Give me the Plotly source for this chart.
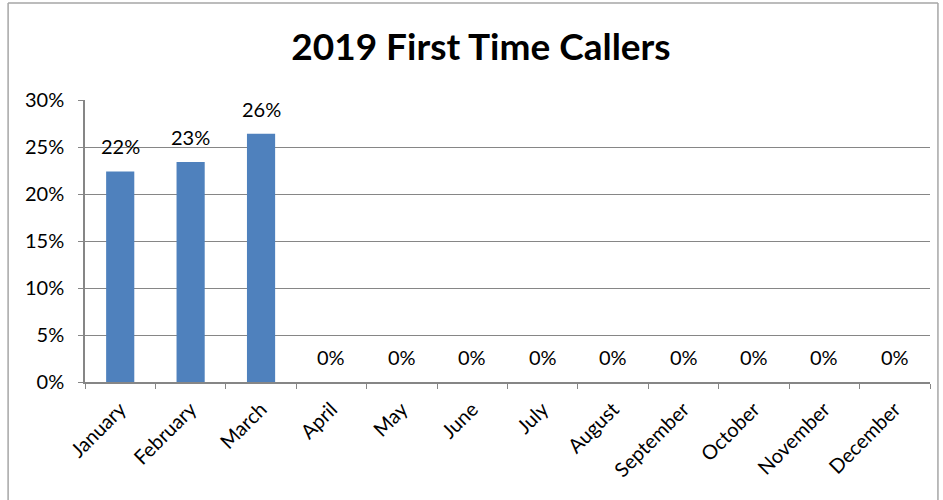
import plotly.graph_objects as go

months = ["January", "February", "March", "April", "May", "June", "July",
          "August", "September", "October", "November", "December"]
rates = [0.224, 0.234, 0.264, 0, 0, 0, 0, 0, 0, 0, 0, 0]
y_ticks = [0, 0.05, 0.10, 0.15, 0.20, 0.25, 0.30]
y_tick_labels = ["0%", "5%", "10%", "15%", "20%", "25%", "30%"]

FONT = "Lato, Calibri, 'Noto Sans', sans-serif"

fig = go.Figure(go.Bar(
    x=months, y=rates,
    marker=dict(color="#4F81BD", line=dict(color="#4F81BD", width=0)),
    hoverinfo="x+y",
))

for m, v in zip(months, rates):
    fig.add_annotation(x=m, y=v, text=f"{round(v * 100)}%", showarrow=False,
                       yanchor="bottom", yshift=11,
                       font=dict(family=FONT, size=20, color="#000000"))

fig.update_layout(
    width=943, height=500,
    margin=dict(l=85, r=13, t=100, b=118, autoexpand=False),
    paper_bgcolor="white", plot_bgcolor="white",
    bargap=0.6,
    showlegend=False,
    title=dict(text="<b>2019 First Time Callers</b>", x=0.51, xanchor="center",
               y=0.905, yanchor="middle",
               font=dict(family=FONT, size=37, color="#000000")),
    font=dict(family=FONT, size=20, color="#000000"),
    xaxis=dict(
        automargin=False,
        tickangle=-45, showgrid=False, showline=True, linecolor="#868686",
        linewidth=1.5, ticks="outside", tickson="boundaries", ticklen=5,
        ticklabelstandoff=6,
        tickcolor="#868686", tickfont=dict(family=FONT, size=20, color="#000000"),
    ),
    yaxis=dict(
        automargin=False,
        range=[0, 0.30], tickvals=y_ticks, ticktext=y_tick_labels,
        showgrid=True, gridcolor="#868686", gridwidth=1,
        showline=True, linecolor="#868686", linewidth=1.5,
        ticks="outside", ticklen=5, tickcolor="#868686",
        ticklabelstandoff=10,
        zeroline=False,
        tickfont=dict(family=FONT, size=20, color="#000000"),
    ),
    shapes=[
        dict(type="line", xref="paper", yref="paper", x0=-0.091, x1=-0.091,
             y0=-0.42, y1=1.344, line=dict(color="#A6A6A6", width=1.5)),
        dict(type="line", xref="paper", yref="paper", x0=-0.091, x1=1.0094,
             y0=1.344, y1=1.344, line=dict(color="#A6A6A6", width=1.5)),
        dict(type="line", xref="paper", yref="paper", x0=1.0094, x1=1.0094,
             y0=-0.42, y1=1.344, line=dict(color="#A6A6A6", width=1.5)),
    ],
)

fig.write_html("out.html", config={"displayModeBar": False},
               post_script="document.body.style.margin='0px';document.body.style.overflow='hidden';")
